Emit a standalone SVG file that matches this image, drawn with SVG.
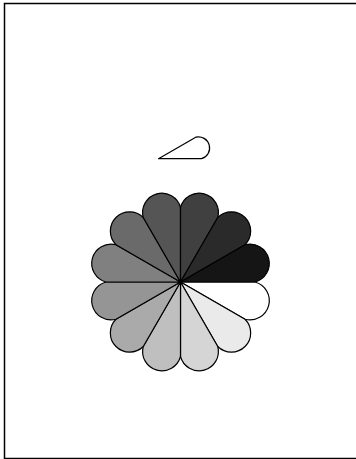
<svg xmlns="http://www.w3.org/2000/svg" width="356" height="459" viewBox="0 0 356 459">
<style>
.p{stroke:#000;stroke-width:1.2;stroke-linejoin:round}
.frame{fill:#fff;stroke:#000;stroke-width:1.5}
</style>
<rect class="frame" x="4.5" y="3.5" width="400" height="455"/>
<g id="teardrop">
<path class="p" fill="#fff" d="M158.5,158.7 L201.5,158.7 A11.13,11.13 0 0 0 195.74,137.2 Z"/>
</g>
<g id="flower">
<path id="petal0" class="p" fill="#ffffff" d="M180.5,282 L255,282 A19.28,19.28 0 0 1 245.02,319.25 Z"/>
<path id="petal1" class="p" fill="#eaeaea" d="M180.5,282 L245.02,319.25 A19.28,19.28 0 0 1 217.75,346.52 Z"/>
<path id="petal2" class="p" fill="#d5d5d5" d="M180.5,282 L217.75,346.52 A19.28,19.28 0 0 1 180.5,356.5 Z"/>
<path id="petal3" class="p" fill="#bfbfbf" d="M180.5,282 L180.5,356.5 A19.28,19.28 0 0 1 143.25,346.52 Z"/>
<path id="petal4" class="p" fill="#aaaaaa" d="M180.5,282 L143.25,346.52 A19.28,19.28 0 0 1 115.98,319.25 Z"/>
<path id="petal5" class="p" fill="#959595" d="M180.5,282 L115.98,319.25 A19.28,19.28 0 0 1 106,282 Z"/>
<path id="petal6" class="p" fill="#808080" d="M180.5,282 L106,282 A19.28,19.28 0 0 1 115.98,244.75 Z"/>
<path id="petal7" class="p" fill="#6a6a6a" d="M180.5,282 L115.98,244.75 A19.28,19.28 0 0 1 143.25,217.48 Z"/>
<path id="petal8" class="p" fill="#555555" d="M180.5,282 L143.25,217.48 A19.28,19.28 0 0 1 180.5,207.5 Z"/>
<path id="petal9" class="p" fill="#404040" d="M180.5,282 L180.5,207.5 A19.28,19.28 0 0 1 217.75,217.48 Z"/>
<path id="petal10" class="p" fill="#2a2a2a" d="M180.5,282 L217.75,217.48 A19.28,19.28 0 0 1 245.02,244.75 Z"/>
<path id="petal11" class="p" fill="#151515" d="M180.5,282 L245.02,244.75 A19.28,19.28 0 0 1 255,282 Z"/>
</g>
</svg>
